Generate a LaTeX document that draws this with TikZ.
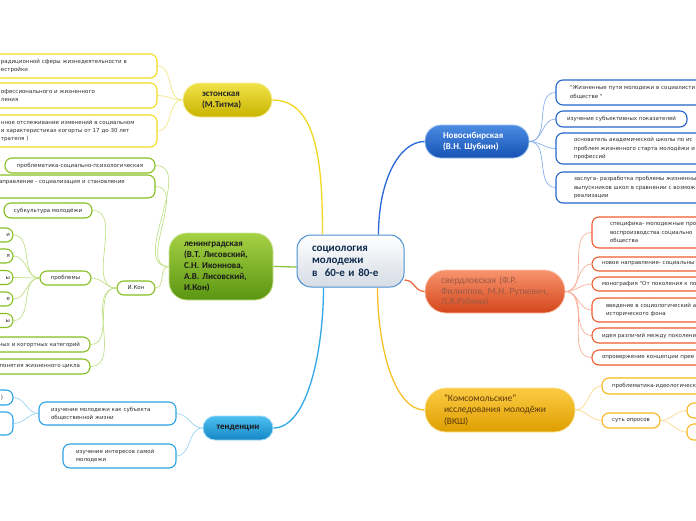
\documentclass[tikz,border=0pt]{standalone}
\usepackage{fontspec}
\setmainfont{Carlito}
\newfontfamily\leaffont{DejaVu Sans}
\usepackage{tikz}
\usepackage{xcolor}
\usetikzlibrary{backgrounds}
\definecolor{rootline}{HTML}{4A90D0}
\definecolor{rootbot}{HTML}{D5DCE4}
\definecolor{roottext}{HTML}{0E2A4E}
\definecolor{leaftext}{HTML}{2E2E2E}
\definecolor{esttop}{HTML}{F0E24A}
\definecolor{estbot}{HTML}{C9B400}
\definecolor{estline}{HTML}{F2DC1E}
\definecolor{esttwig}{HTML}{F4E682}
\definecolor{estbranch}{HTML}{F0D820}
\definecolor{lentop}{HTML}{A6D044}
\definecolor{lenbot}{HTML}{5A9612}
\definecolor{lenline}{HTML}{86BE20}
\definecolor{lentwig}{HTML}{C2E08A}
\definecolor{lenbranch}{HTML}{8CC43C}
\definecolor{tentop}{HTML}{4EC0F0}
\definecolor{tenbot}{HTML}{1486C6}
\definecolor{tenline}{HTML}{2AA2E6}
\definecolor{tentwig}{HTML}{9AD4F2}
\definecolor{tenbranch}{HTML}{30A8E8}
\definecolor{novtop}{HTML}{4C8CE2}
\definecolor{novbot}{HTML}{1552B4}
\definecolor{novline}{HTML}{2264CC}
\definecolor{novtwig}{HTML}{88AEEA}
\definecolor{novbranch}{HTML}{2868D8}
\definecolor{svtop}{HTML}{F8946E}
\definecolor{svbot}{HTML}{D4461A}
\definecolor{svline}{HTML}{F05C2C}
\definecolor{svtwig}{HTML}{F8B098}
\definecolor{svbranch}{HTML}{F06A40}
\definecolor{svtext}{HTML}{9A5A46}
\definecolor{kmtop}{HTML}{FCCB44}
\definecolor{kmbot}{HTML}{DE9E00}
\definecolor{kmline}{HTML}{F6B81E}
\definecolor{kmtwig}{HTML}{FAD98E}
\definecolor{kmbranch}{HTML}{F8C028}
\definecolor{kmtext}{HTML}{5C3A0C}
\tikzset{
    % Central topic
    root/.style={
        rectangle,
        rounded corners=14pt,
        draw=rootline,
        line width=1pt,
        top color=white,
        bottom color=rootbot,
        text=roottext,
        font=\fontsize{11}{12.5}\selectfont\bfseries,
        align=left,
        inner sep=0pt
    },
    % Main topic style
    topic/.style={
        rectangle,
        rounded corners=16pt,
        draw=#1top!55!white,
        line width=0.8pt,
        top color=#1top,
        bottom color=#1bot,
        font=\fontsize{9}{11}\selectfont\bfseries,
        align=left,
        inner sep=0pt
    },
    % Leaf style
    leaf/.style={
        rectangle,
        rounded corners=7pt,
        draw=#1line,
        line width=1.1pt,
        fill=white,
        text=leaftext,
        font=\leaffont\fontsize{5.5}{8.3}\selectfont,
        inner sep=0pt
    },
    % Connector styles
    branch/.style={
        line width=1.3pt,
        color=#1
    },
    twig/.style={
        line width=0.7pt,
        color=#1twig
    }
}

\begin{document}
\begin{tikzpicture}[x=1pt, y=-1pt]
        \useasboundingbox (0,0) rectangle (696,520);
        \clip (0,0) rectangle (696,520);

        % Central topic
        \node[root, minimum width=107pt, minimum height=52pt, text width=77pt] (root) at (350.5,261) {социология\\молодежи\\в~~60-е и 80-е};

        % Main topics
        \node[topic=est, rounded corners=17pt, minimum width=89pt, minimum height=34pt, text width=51pt, text=black!85] (est) at (227.5,100) {эстонская\\(М.Титма)};
        \node[topic=len, rounded corners=18pt, minimum width=104pt, minimum height=67pt, text width=74pt, text=black!90] (len) at (221,266.5) {ленинградская\\(В.Т. Лисовский,\\С.Н. Иконнова,\\А.В. Лисовский,\\И.Кон)};
        \node[topic=ten, rounded corners=12pt, minimum width=70pt, minimum height=24pt, text=black!90, align=center] (ten) at (238,428) {тенденции};
        \node[topic=nov, minimum width=104pt, minimum height=33pt, text width=68pt, text=white] (nov) at (477,141.5) {Новосибирская\\(В.Н. Шубкин)};
        \node[topic=sv, rounded corners=21pt, minimum width=140pt, minimum height=43pt, text width=108pt, text=svtext, font=\fontsize{9.5}{10.6}\selectfont] (sverd) at (495,291.5) {свердловская (Ф.Р.\\Филиппов, М.Н. Руткевич,\\Л.Я.Рубина)};
        \node[topic=km, rounded corners=21pt, minimum width=150pt, minimum height=44pt, text width=112pt, text=kmtext, font=\fontsize{9.5}{11.5}\selectfont] (komsy) at (500,410) {"Комсомольские"\\исследования молодёжи\\(ВКШ)};

        % Estonian school
        \node[leaf=est, minimum width=164pt, minimum height=24pt, text width=148pt, align=left] (e1) at (75,66) {радиционной сферы жизнедеятельности в\\естройки};
        \node[leaf=est, minimum width=164pt, minimum height=25pt, text width=148pt, align=left] (e2) at (75,95.5) {офессионального и жизненного\\ления};
        \node[leaf=est, minimum width=164pt, minimum height=32pt, text width=148pt, align=left] (e3) at (75,131) {нное отслеживание изменений в социальном\\и характеристиках когорты от 17 до 30 лет\\трателя )};

        % Leningrad school
        \node[leaf=len, minimum width=150pt, minimum height=15pt] (p1) at (80,165.5) {проблематика-социально-психологическая};
        \node[leaf=len, minimum width=164pt, minimum height=23pt, text width=148pt, align=left] (p2) at (73,186.5) {аправление - социализация и становление\\\mbox{}};
        \node[leaf=len, minimum width=88pt, minimum height=15pt] (sub) at (48,210.5) {субкультура молодёжи};
        \node[leaf=len, minimum width=38pt, minimum height=14pt] (kon) at (136,288) {И.Кон};
        \node[leaf=len, minimum width=51pt, minimum height=14pt] (prob) at (65.5,278) {проблемы};
        \node[leaf=len, minimum width=60pt, minimum height=14pt, text width=54pt, align=right] (q1) at (-17,235) {и};
        \node[leaf=len, minimum width=60pt, minimum height=14pt, text width=54pt, align=right] (q2) at (-17,256) {я};
        \node[leaf=len, minimum width=60pt, minimum height=14pt, text width=54pt, align=right] (q3) at (-17,277.5) {ы};
        \node[leaf=len, minimum width=60pt, minimum height=14pt, text width=54pt, align=right] (q4) at (-17,299) {е};
        \node[leaf=len, minimum width=60pt, minimum height=14pt, text width=54pt, align=right] (q5) at (-17,320.5) {ы};
        \node[leaf=len, minimum width=170pt, minimum height=15pt, text width=150pt, align=right] (coh) at (5,344.5) {ных и когортных категорий};
        \node[leaf=len, minimum width=170pt, minimum height=15pt, text width=150pt, align=right] (cyc) at (5,366.5) {понятия жизненного цикла};

        % Trends
        \node[leaf=ten, minimum width=137pt, minimum height=23pt, text width=113pt, align=left] (t1) at (107.5,413.5) {изучение молодежи как субъекта\\общественной жизни};
        \node[leaf=ten, minimum width=113pt, minimum height=24pt, text width=87pt, align=left] (t2) at (119.5,456) {изучение интересов самой\\молодежи};
        \node[leaf=ten, minimum width=170pt, minimum height=15pt, text width=150pt, align=right] (t3) at (-72,397.5) {)};
        \node[leaf=ten, minimum width=170pt, minimum height=23pt] (t4) at (-72,423.5) {};

        % Novosibirsk school
        \node[leaf=nov, minimum width=188pt, minimum height=25pt, text width=160pt, align=left] (n1) at (650,92.5) {"Жизненные пути молодежи в социалисти\\обществе "};
        \node[leaf=nov, minimum width=131pt, minimum height=16pt] (n2) at (621.5,119) {изучение субъективных показателей};
        \node[leaf=nov, minimum width=196pt, minimum height=31pt, text width=160pt, align=left] (n3) at (654,148.5) {основатель академической школы по ис\\проблем жизненного старта молодёжи и\\профессий};
        \node[leaf=nov, minimum width=196pt, minimum height=31pt, text width=160pt, align=left] (n4) at (654,187.5) {заслуга- разработка проблемы жизненны\\выпускников школ в сравнении с возмож\\реализации};

        % Sverdlovsk school
        \node[leaf=sv, minimum width=196pt, minimum height=31pt, text width=160pt, align=left] (s1) at (690,232.5) {специфика- молодежные про\\воспроизводства социально\\общества};
        \node[leaf=sv, minimum width=180pt, minimum height=14pt, text width=160pt, align=left] (s2) at (682,264) {новое направление- социальны};
        \node[leaf=sv, minimum width=180pt, minimum height=14pt, text width=160pt, align=left] (s3) at (682,284) {монография "От поколения к по};
        \node[leaf=sv, minimum width=188pt, minimum height=24pt, text width=160pt, align=left] (s4) at (686,310) {введение в социологический а\\исторического фона};
        \node[leaf=sv, minimum width=180pt, minimum height=15pt, text width=160pt, align=left] (s5) at (682,335.5) {идея различий между поколени};
        \node[leaf=sv, minimum width=180pt, minimum height=15pt, text width=160pt, align=left] (s6) at (682,357.5) {опровержение концепции прее};

        % Komsomol surveys
        \node[leaf=km, minimum width=180pt, minimum height=16pt, text width=160pt, align=left] (k1) at (692,386) {проблематика-идеологическ};
        \node[leaf=km, minimum width=58pt, minimum height=15pt] (k2) at (631,420.5) {суть опросов};
        \node[leaf=km, minimum width=40pt, minimum height=15pt] (k3) at (707,410.5) {};
        \node[leaf=km, minimum width=40pt, minimum height=16pt] (k4) at (707,432) {};

        \begin{scope}[on background layer]
            % Main branches
            \draw[branch=estbranch] ([xshift=-28pt]root.north) .. controls +(0,-70) and +(45,0) .. (est.east);
            \draw[branch=lenbranch] (len.east) .. controls +(12,0) and +(-10,0) .. ([yshift=-6pt]root.west);
            \draw[branch=tenbranch] (ten.east) .. controls +(35,0) and +(0,60) .. ([xshift=-27pt]root.south);
            \draw[branch=novbranch] ([xshift=28pt]root.north) .. controls +(0,-55) and +(-25,0) .. (nov.west);
            \draw[branch=svbranch] ([yshift=-19pt]root.east) .. controls +(10,0) and +(-10,0) .. (sverd.west);
            \draw[branch=kmbranch] ([xshift=27pt]root.south) .. controls +(0,60) and +(-30,0) .. (komsy.west);

            % Leaf connectors
            \draw[twig=est] (est.west) to[out=180, in=0] (e1.east);
            \draw[twig=est] (est.west) to[out=180, in=0] (e2.east);
            \draw[twig=est] (est.west) to[out=180, in=0] (e3.east);
            \draw[twig=len] (len.west) to[out=180, in=0] (p1.east);
            \draw[twig=len] (len.west) to[out=180, in=0] (p2.east);
            \draw[twig=len] (len.west) to[out=180, in=0] (kon.east);
            \draw[twig=len] (kon.west) to[out=180, in=0] (sub.east);
            \draw[twig=len] (kon.west) to[out=180, in=0] (prob.east);
            \draw[twig=len] (kon.west) to[out=180, in=0] (coh.east);
            \draw[twig=len] (kon.west) to[out=180, in=0] (cyc.east);
            \draw[twig=len] (prob.west) to[out=180, in=0] (q1.east);
            \draw[twig=len] (prob.west) to[out=180, in=0] (q2.east);
            \draw[twig=len] (prob.west) to[out=180, in=0] (q3.east);
            \draw[twig=len] (prob.west) to[out=180, in=0] (q4.east);
            \draw[twig=len] (prob.west) to[out=180, in=0] (q5.east);
            \draw[twig=ten] (ten.west) to[out=180, in=0] (t1.east);
            \draw[twig=ten] (ten.west) to[out=180, in=0] (t2.east);
            \draw[twig=ten] (t1.west) to[out=180, in=0] (t3.east);
            \draw[twig=ten] (t1.west) to[out=180, in=0] (t4.east);
            \draw[twig=nov] (nov.east) to[out=0, in=180] (n1.west);
            \draw[twig=nov] (nov.east) to[out=0, in=180] (n2.west);
            \draw[twig=nov] (nov.east) to[out=0, in=180] (n3.west);
            \draw[twig=nov] (nov.east) to[out=0, in=180] (n4.west);
            \draw[twig=sv] (sverd.east) to[out=0, in=180] (s1.west);
            \draw[twig=sv] (sverd.east) to[out=0, in=180] (s2.west);
            \draw[twig=sv] (sverd.east) to[out=0, in=180] (s3.west);
            \draw[twig=sv] (sverd.east) to[out=0, in=180] (s4.west);
            \draw[twig=sv] (sverd.east) to[out=0, in=180] (s5.west);
            \draw[twig=sv] (sverd.east) to[out=0, in=180] (s6.west);
            \draw[twig=km] (komsy.east) to[out=0, in=180] (k1.west);
            \draw[twig=km] (komsy.east) to[out=0, in=180] (k2.west);
            \draw[twig=km] (k2.east) to[out=0, in=180] (k3.west);
            \draw[twig=km] (k2.east) to[out=0, in=180] (k4.west);
        \end{scope}
    \end{tikzpicture}
\end{document}
